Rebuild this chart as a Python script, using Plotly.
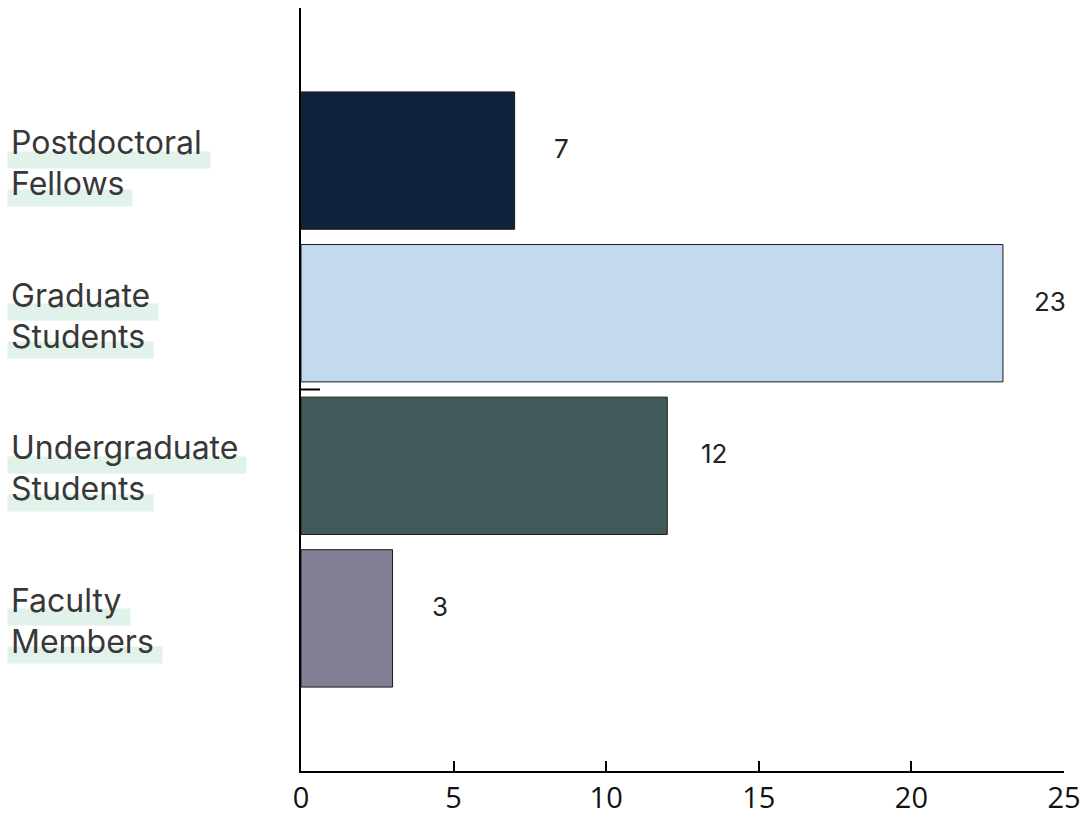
import plotly.graph_objects as go

# Research group composition (head counts), listed bottom to top
categories = ["Faculty Members", "Undergraduate Students", "Graduate Students", "Postdoctoral Fellows"]
label_lines = [["Faculty", "Members"], ["Undergraduate", "Students"], ["Graduate", "Students"], ["Postdoctoral", "Fellows"]]
counts = [3, 12, 23, 7]
bar_colors = ["#837f94", "#405a5a", "#c3daee", "#10223b"]
x_ticks = [0, 5, 10, 15, 20, 25]

LABEL_FONT = dict(family="Inter, Liberation Sans, Arial, sans-serif", size=32, color="#383838")
VALUE_FONT = dict(family="Inter, Liberation Sans, Arial, sans-serif", size=26, color="#222222")
HIGHLIGHT = "#e0f2ea"

fig = go.Figure(
    go.Bar(
        x=counts,
        y=categories,
        orientation="h",
        width=0.9,
        marker=dict(color=bar_colors, line=dict(color="#1a1a1a", width=1)),
        hoverinfo="x+y",
    )
)

annotations = []
# Highlighter strokes behind each label line (drawn first so the text sits on top)
for cat, lines in zip(categories, label_lines):
    for i, line in enumerate(lines):
        annotations.append(dict(
            xref="paper", yref="y", x=-0.3855, y=cat,
            xanchor="left", yanchor="middle",
            text=line + "&nbsp;", showarrow=False,
            font=dict(family=LABEL_FONT["family"], size=LABEL_FONT["size"], color="rgba(0,0,0,0)"),
            bgcolor=HIGHLIGHT, height=14, borderpad=1,
            yshift=1 if i == 0 else -37,
        ))
# Category label text, one annotation per line
for cat, lines in zip(categories, label_lines):
    for i, line in enumerate(lines):
        annotations.append(dict(
            xref="paper", yref="y", x=-0.383, y=cat,
            xanchor="left", yanchor="middle",
            text=line, showarrow=False, font=LABEL_FONT,
            yshift=18 if i == 0 else -23,
        ))
# Value labels to the right of each bar
for cat, v in zip(categories, counts):
    annotations.append(dict(
        xref="x", yref="y", x=v, y=cat,
        xanchor="center", yanchor="middle",
        text=str(v), showarrow=False, font=VALUE_FONT,
        xshift=47, yshift=12,
    ))

fig.update_layout(
    width=1086, height=816,
    margin=dict(l=301, r=22, t=8, b=45),
    paper_bgcolor="white", plot_bgcolor="white",
    showlegend=False,
    annotations=annotations,
    shapes=[dict(
        type="line", xref="x", yref="y", xsizemode="pixel", xanchor=0,
        x0=0, x1=19, y0=1.5, y1=1.5,
        line=dict(color="black", width=2),
    )],
)
fig.update_xaxes(
    range=[0, 25], tickvals=x_ticks, ticktext=[str(t) for t in x_ticks],
    showline=True, linecolor="black", linewidth=2,
    ticks="inside", ticklen=10, tickwidth=2, tickcolor="black",
    showgrid=False, zeroline=False, automargin=False,
    tickfont=dict(family="Open Sans, sans-serif", size=29, color="#111111"),
)
fig.update_yaxes(
    type="category", categoryorder="array", categoryarray=categories,
    range=[-1, 4], showline=True, linecolor="black", linewidth=2,
    showticklabels=False, ticks="", showgrid=False, zeroline=False, automargin=False,
)

fig.write_html("out.html")
